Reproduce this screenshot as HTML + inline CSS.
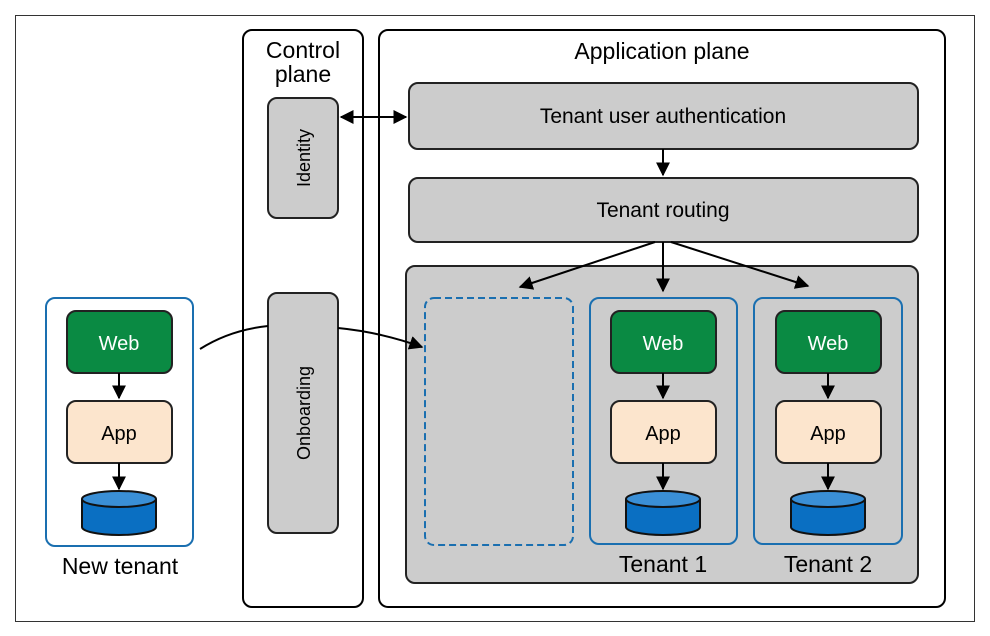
<!DOCTYPE html>
<html><head><style>
body{margin:0;background:#fff;}
svg{display:block;}
text{font-family:"Liberation Sans Narrow","Liberation Sans",sans-serif;}
</style></head><body>
<svg width="990" height="636" viewBox="0 0 990 636" xmlns="http://www.w3.org/2000/svg">
<defs>
<marker id="a" viewBox="0 0 10 10" refX="9" refY="5" markerWidth="7" markerHeight="7" orient="auto-start-reverse"><path d="M0,0L10,5L0,10z" fill="#000"/></marker>
<g id="stack">
<rect x="0" y="0" width="105" height="62" rx="9" fill="#0a8a43" stroke="#222" stroke-width="2"/>
<text x="52" y="39" font-size="20" fill="#fff" text-anchor="middle">Web</text>
<line x1="52" y1="62" x2="52" y2="87" stroke="#000" stroke-width="2" marker-end="url(#a)"/>
<rect x="0" y="90" width="105" height="62" rx="9" fill="#fce5cd" stroke="#222" stroke-width="2"/>
<text x="52" y="129" font-size="20" fill="#000" text-anchor="middle">App</text>
<line x1="52" y1="152" x2="52" y2="178" stroke="#000" stroke-width="2" marker-end="url(#a)"/>
<path d="M15,188 L15,216 A37,8 0 0 0 89,216 L89,188" fill="#0a6fc2" stroke="#111" stroke-width="2"/>
<ellipse cx="52" cy="188" rx="37" ry="8" fill="#3a8fd6" stroke="#111" stroke-width="2"/>
</g>
</defs>
<rect x="15.5" y="15.5" width="959" height="606" fill="none" stroke="#333" stroke-width="1"/>
<rect x="243" y="30" width="120" height="577" rx="9" fill="#fff" stroke="#000" stroke-width="2"/>
<text x="303" y="58" font-size="23" text-anchor="middle">Control</text>
<text x="303" y="82" font-size="23" text-anchor="middle">plane</text>
<rect x="268" y="98" width="70" height="120" rx="9" fill="#ccc" stroke="#222" stroke-width="2"/>
<text transform="translate(310,158) rotate(-90)" font-size="18" text-anchor="middle">Identity</text>
<rect x="268" y="293" width="70" height="240" rx="9" fill="#ccc" stroke="#222" stroke-width="2"/>
<text transform="translate(310,413) rotate(-90)" font-size="18" text-anchor="middle">Onboarding</text>
<rect x="379" y="30" width="566" height="577" rx="9" fill="#fff" stroke="#000" stroke-width="2"/>
<text x="662" y="59" font-size="23" text-anchor="middle">Application plane</text>
<rect x="409" y="83" width="509" height="66" rx="9" fill="#ccc" stroke="#222" stroke-width="2"/>
<text x="663" y="123" font-size="21" text-anchor="middle">Tenant user authentication</text>
<line x1="341" y1="117" x2="406" y2="117" stroke="#000" stroke-width="2" marker-start="url(#a)" marker-end="url(#a)"/>
<line x1="663" y1="149" x2="663" y2="175" stroke="#000" stroke-width="2" marker-end="url(#a)"/>
<rect x="409" y="178" width="509" height="64" rx="9" fill="#ccc" stroke="#222" stroke-width="2"/>
<text x="663" y="217" font-size="21" text-anchor="middle">Tenant routing</text>
<rect x="406" y="266" width="512" height="317" rx="9" fill="#ccc" stroke="#222" stroke-width="2"/>
<line x1="655" y1="242" x2="520" y2="287" stroke="#000" stroke-width="2" marker-end="url(#a)"/>
<line x1="663" y1="242" x2="663" y2="291" stroke="#000" stroke-width="2" marker-end="url(#a)"/>
<line x1="671" y1="242" x2="808" y2="286" stroke="#000" stroke-width="2" marker-end="url(#a)"/>
<rect x="425" y="298" width="148" height="247" rx="9" fill="none" stroke="#1a6fb0" stroke-width="2" stroke-dasharray="7,4"/>
<rect x="590" y="298" width="147" height="246" rx="9" fill="none" stroke="#1a6fb0" stroke-width="2"/>
<use href="#stack" x="611" y="311"/>
<text x="663" y="572" font-size="23" text-anchor="middle">Tenant 1</text>
<rect x="754" y="298" width="148" height="246" rx="9" fill="none" stroke="#1a6fb0" stroke-width="2"/>
<use href="#stack" x="776" y="311"/>
<text x="828" y="572" font-size="23" text-anchor="middle">Tenant 2</text>
<rect x="46" y="298" width="147" height="248" rx="9" fill="#fff" stroke="#1a6fb0" stroke-width="2"/>
<use href="#stack" x="67" y="311"/>
<text x="120" y="574" font-size="23" text-anchor="middle">New tenant</text>
<path d="M200,349 Q230,330 268,326" fill="none" stroke="#000" stroke-width="2"/>
<path d="M338,328 Q380,332 422,347" fill="none" stroke="#000" stroke-width="2" marker-end="url(#a)"/>
</svg>
</body></html>
